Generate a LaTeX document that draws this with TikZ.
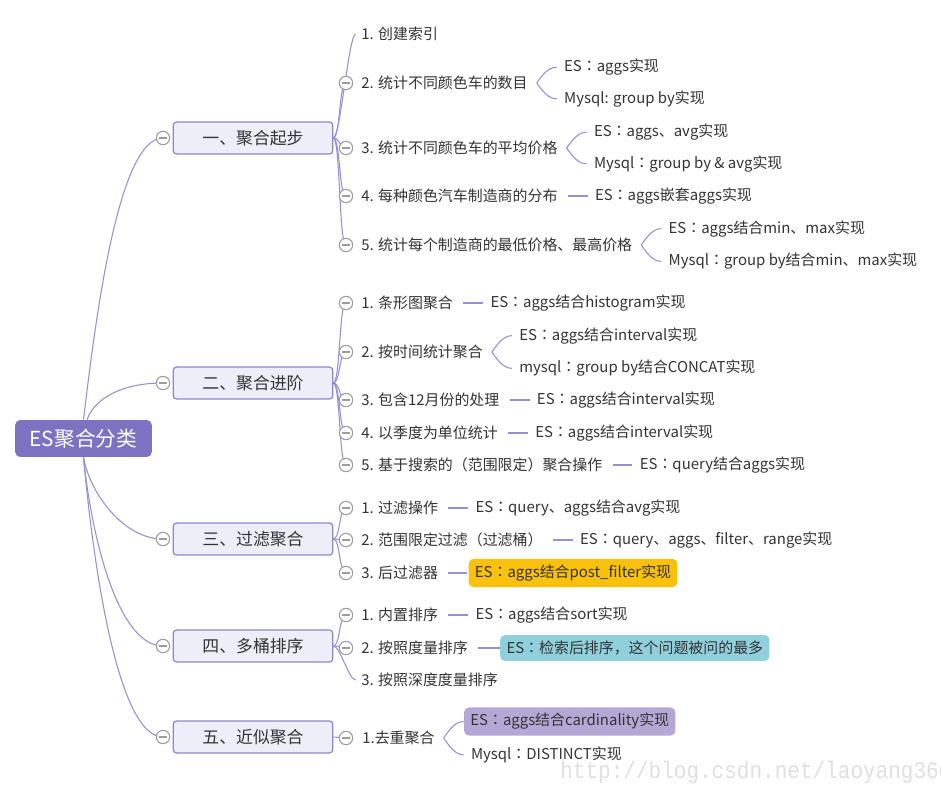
\documentclass[tikz,border=0pt]{standalone}
\usepackage{fontspec}
\setmainfont{Noto Sans CJK SC}
\newfontfamily\markfont{Liberation Mono}
\newfontfamily\jpfont{Noto Sans CJK JP}
\newcommand\cnco{{\jpfont ：}}
\usetikzlibrary{positioning,calc,backgrounds}
\definecolor{mapInk}{HTML}{333333}
\definecolor{mapLine}{HTML}{9590D4}
\definecolor{mapRoot}{HTML}{7B72C2}
\definecolor{mapBox}{HTML}{EEEEF8}
\definecolor{mapEdge}{HTML}{8C86CF}
\definecolor{mapFold}{HTML}{9C9C9C}
\definecolor{mapGold}{HTML}{F9C00C}
\definecolor{mapTeal}{HTML}{8FD0DC}
\definecolor{mapLilac}{HTML}{B5A8D6}
\definecolor{mapMark}{HTML}{E0E0E0}

\begin{document}
\begin{tikzpicture}[x=0.02cm,y=-0.02cm,
  rootbox/.style={rounded corners=2.8pt,fill=mapRoot,text=white,minimum width=77.7pt,minimum height=21pt,font=\fontsize{11.8}{13}\selectfont},
  topicbox/.style={draw=mapEdge,line width=0.7pt,rounded corners=1.7pt,fill=mapBox,text=mapInk,minimum width=90.7pt,minimum height=18.1pt,font=\fontsize{9.6}{11}\selectfont},
  fold/.style={circle,draw=mapFold,line width=0.6pt,fill=white,minimum size=7.6pt,inner sep=0pt,
    path picture={\draw[mapFold,line width=0.6pt] ([xshift=-2.4pt]path picture bounding box.center) -- ([xshift=2.4pt]path picture bounding box.center);}},
  item/.style={anchor=west,inner xsep=0pt,text=mapInk,font=\fontsize{8.5}{10}\selectfont},
  leaf/.style={inner xsep=0pt,text=mapInk,font=\fontsize{8.5}{10}\selectfont},
  tagbox/.style={leaf,inner xsep=3.6pt,rounded corners=2.8pt,minimum height=12pt},
  link/.style={mapLine,line width=0.6pt},
  stub/.style={link,shorten <=5.7pt,shorten >=4pt}]
  \useasboundingbox (0,0) rectangle (941,788);

  \node[rootbox] (root) at (83.5,438.5) {ES聚合分类};

  \node[topicbox] (qibu) at (253,138) {一、聚合起步};
  \node[fold] (qibuf) at (163,138) {};
  \node[topicbox] (jinjie) at (253,383) {二、聚合进阶};
  \node[fold] (jinjief) at (163,383) {};
  \node[topicbox] (guolv) at (253,539) {三、过滤聚合};
  \node[fold] (guolvf) at (163,539) {};
  \node[topicbox] (paixu) at (253,646) {四、多桶排序};
  \node[fold] (paixuf) at (163,646) {};
  \node[topicbox] (jinsi) at (253,737) {五、近似聚合};
  \node[fold] (jinsif) at (163,737) {};

  \node[item] (qibu1) at (361,34) {1. 创建索引};
  \node[item] (qibu2) at (361,83) {2. 统计不同颜色车的数目};
  \node[fold] (qibu2f) at (346,83) {};
  \node[leaf,right=20.4pt of qibu2,yshift=9pt] (qibu2a) {ES\cnco aggs实现};
  \node[leaf,right=20.4pt of qibu2,yshift=-9pt] (qibu2b) {Mysql: group by实现};
  \node[item] (qibu3) at (361,148) {3. 统计不同颜色车的平均价格};
  \node[fold] (qibu3f) at (346,148) {};
  \node[leaf,right=20.4pt of qibu3,yshift=9pt] (qibu3a) {ES\cnco aggs、avg实现};
  \node[leaf,right=20.4pt of qibu3,yshift=-9pt] (qibu3b) {Mysql\cnco group by \& avg实现};
  \node[item] (qibu4) at (361,196) {4. 每种颜色汽车制造商的分布};
  \node[fold] (qibu4f) at (346,196) {};
  \node[leaf,right=21pt of qibu4] (qibu4a) {ES\cnco aggs嵌套aggs实现};
  \node[item] (qibu5) at (361,245) {5. 统计每个制造商的最低价格、最高价格};
  \node[fold] (qibu5f) at (346,245) {};
  \node[leaf,right=20.4pt of qibu5,yshift=9.3pt] (qibu5a) {ES\cnco aggs结合min、max实现};
  \node[leaf,right=20.4pt of qibu5,yshift=-9.3pt] (qibu5b) {Mysql\cnco group by结合min、max实现};

  \node[item] (jinjie1) at (361,303) {1. 条形图聚合};
  \node[fold] (jinjie1f) at (346,303) {};
  \node[leaf,right=21pt of jinjie1] (jinjie1a) {ES\cnco aggs结合histogram实现};
  \node[item] (jinjie2) at (361,352) {2. 按时间统计聚合};
  \node[fold] (jinjie2f) at (346,352) {};
  \node[leaf,right=20.4pt of jinjie2,yshift=9.3pt] (jinjie2a) {ES\cnco aggs结合interval实现};
  \node[leaf,right=20.4pt of jinjie2,yshift=-9.3pt] (jinjie2b) {mysql\cnco group by结合CONCAT实现};
  \node[item] (jinjie3) at (361,400) {3. 包含12月份的处理};
  \node[fold] (jinjie3f) at (346,400) {};
  \node[leaf,right=21pt of jinjie3] (jinjie3a) {ES\cnco aggs结合interval实现};
  \node[item] (jinjie4) at (361,433) {4. 以季度为单位统计};
  \node[fold] (jinjie4f) at (346,433) {};
  \node[leaf,right=21pt of jinjie4] (jinjie4a) {ES\cnco aggs结合interval实现};
  \node[item] (jinjie5) at (361,465) {5. 基于搜索的（范围限定）聚合操作};
  \node[fold] (jinjie5f) at (346,465) {};
  \node[leaf,right=21pt of jinjie5] (jinjie5a) {ES\cnco query结合aggs实现};

  \node[item] (guolv1) at (361,508) {1. 过滤操作};
  \node[fold] (guolv1f) at (346,508) {};
  \node[leaf,right=21pt of guolv1] (guolv1a) {ES\cnco query、aggs结合avg实现};
  \node[item] (guolv2) at (361,540) {2. 范围限定过滤（过滤桶）};
  \node[fold] (guolv2f) at (346,540) {};
  \node[leaf,right=21pt of guolv2] (guolv2a) {ES\cnco query、aggs、filter、range实现};
  \node[item] (guolv3) at (361,573) {3. 后过滤器};
  \node[fold] (guolv3f) at (346,573) {};
  \node[tagbox,fill=mapGold,right=17pt of guolv3] (guolv3a) {ES\cnco aggs结合post\_filter实现};

  \node[item] (paixu1) at (361,615) {1. 内置排序};
  \node[fold] (paixu1f) at (346,615) {};
  \node[leaf,right=21pt of paixu1] (paixu1a) {ES\cnco aggs结合sort实现};
  \node[item] (paixu2) at (361,648) {2. 按照度量排序};
  \node[fold] (paixu2f) at (346,648) {};
  \node[tagbox,fill=mapTeal,right=18pt of paixu2] (paixu2a) {ES\cnco 检索后排序，这个问题被问的最多};
  \node[item] (paixu3) at (361,680) {3. 按照深度度量排序};

  \node[item] (jinsi1) at (362,738) {1.去重聚合};
  \node[fold] (jinsi1f) at (346,738) {};
  \node[tagbox,fill=mapLilac,right=16.4pt of jinsi1,yshift=9.4pt] (jinsi1a) {ES\cnco aggs结合cardinality实现};
  \node[leaf,right=20.4pt of jinsi1,yshift=-9.6pt] (jinsi1b) {Mysql\cnco DISTINCT实现};

  \node[anchor=base west,inner sep=0pt,text=mapMark,font=\markfont\fontsize{13.6}{14}\selectfont] (mark) at (560,778) {\scalebox{0.88}[1]{http://blog.csdn.net/laoyang360}};

  \begin{scope}[on background layer]
    \fill[white] (0,0) rectangle (941,788);
    \draw[link] (root.north) .. controls +(12,-100) and +(-45,0) .. (qibuf.center);
    \draw[link] ([xshift=2pt]root.north) .. controls +(8,-22) and +(-40,0) .. (jinjief.center);
    \draw[link] (root.south) .. controls +(6,35) and +(-40,0) .. (guolvf.center);
    \draw[link] (root.south) .. controls +(8,80) and +(-45,0) .. (paixuf.center);
    \draw[link] (root.south) .. controls +(10,110) and +(-45,0) .. (jinsif.center);

    \draw[link] (qibu.east) .. controls +(7,0) and +(-7,0) .. ([xshift=-3pt]qibu1.west);
    \draw[link] (qibu.east) .. controls +(7,0) and +(-7,0) .. (qibu2f.center);
    \draw[link] (qibu.east) .. controls +(7,0) and +(-7,0) .. (qibu3f.center);
    \draw[link] (qibu.east) .. controls +(7,0) and +(-7,0) .. (qibu4f.center);
    \draw[link] (qibu.east) .. controls +(7,0) and +(-7,0) .. (qibu5f.center);
    \draw[link] (jinjie.east) .. controls +(7,0) and +(-7,0) .. (jinjie1f.center);
    \draw[link] (jinjie.east) .. controls +(7,0) and +(-7,0) .. (jinjie2f.center);
    \draw[link] (jinjie.east) .. controls +(7,0) and +(-7,0) .. (jinjie3f.center);
    \draw[link] (jinjie.east) .. controls +(7,0) and +(-7,0) .. (jinjie4f.center);
    \draw[link] (jinjie.east) .. controls +(7,0) and +(-7,0) .. (jinjie5f.center);
    \draw[link] (guolv.east) .. controls +(7,0) and +(-7,0) .. (guolv1f.center);
    \draw[link] (guolv.east) .. controls +(7,0) and +(-7,0) .. (guolv2f.center);
    \draw[link] (guolv.east) .. controls +(7,0) and +(-7,0) .. (guolv3f.center);
    \draw[link] (paixu.east) .. controls +(7,0) and +(-7,0) .. (paixu1f.center);
    \draw[link] (paixu.east) .. controls +(7,0) and +(-7,0) .. (paixu2f.center);
    \draw[link] (paixu.east) .. controls +(7,0) and +(-7,0) .. ([xshift=-3pt]paixu3.west);
    \draw[link] (jinsi.east) -- (jinsi1f.center);

    \draw[link] ([xshift=5pt]qibu2.east) .. controls +(5,-7) and +(-9,0) .. ([xshift=-4pt]qibu2a.west);
    \draw[link] ([xshift=5pt]qibu2.east) .. controls +(5,7) and +(-9,0) .. ([xshift=-4pt]qibu2b.west);
    \draw[link] ([xshift=5pt]qibu3.east) .. controls +(5,-7) and +(-9,0) .. ([xshift=-4pt]qibu3a.west);
    \draw[link] ([xshift=5pt]qibu3.east) .. controls +(5,7) and +(-9,0) .. ([xshift=-4pt]qibu3b.west);
    \draw[link] ([xshift=5pt]qibu5.east) .. controls +(5,-7) and +(-9,0) .. ([xshift=-4pt]qibu5a.west);
    \draw[link] ([xshift=5pt]qibu5.east) .. controls +(5,7) and +(-9,0) .. ([xshift=-4pt]qibu5b.west);
    \draw[link] ([xshift=5pt]jinjie2.east) .. controls +(5,-7) and +(-9,0) .. ([xshift=-4pt]jinjie2a.west);
    \draw[link] ([xshift=5pt]jinjie2.east) .. controls +(5,7) and +(-9,0) .. ([xshift=-4pt]jinjie2b.west);
    \draw[link] ([xshift=5pt]jinsi1.east) .. controls +(5,-7) and +(-9,0) .. (jinsi1a.west);
    \draw[link] ([xshift=5pt]jinsi1.east) .. controls +(5,7) and +(-9,0) .. ([xshift=-4pt]jinsi1b.west);

    \draw[stub] (qibu4) -- (qibu4a);
    \draw[stub] (jinjie1) -- (jinjie1a);
    \draw[stub] (jinjie3) -- (jinjie3a);
    \draw[stub] (jinjie4) -- (jinjie4a);
    \draw[stub] (jinjie5) -- (jinjie5a);
    \draw[stub] (guolv1) -- (guolv1a);
    \draw[stub] (guolv2) -- (guolv2a);
    \draw[stub,shorten >=0.8pt] (guolv3) -- (guolv3a);
    \draw[stub] (paixu1) -- (paixu1a);
    \draw[stub,shorten >=0pt] (paixu2) -- (paixu2a);
  \end{scope}
\end{tikzpicture}
\end{document}
